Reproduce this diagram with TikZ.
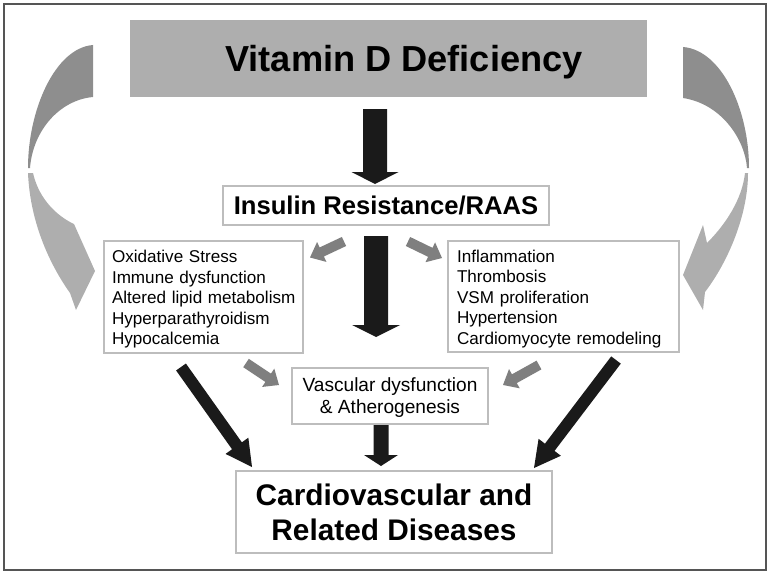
\documentclass[tikz,border=0pt]{standalone}
\usepackage{fontspec}
\setmainfont{Liberation Sans}
\usetikzlibrary{calc}
\definecolor{framec}{HTML}{555555}
\definecolor{topc}{HTML}{AEAEAE}
\definecolor{curvedark}{HTML}{8E8E8E}
\definecolor{curvelight}{HTML}{AEAEAE}
\definecolor{boxc}{HTML}{BDBDBD}
\definecolor{blk}{HTML}{1A1A1A}
\definecolor{gry}{HTML}{7F7F7F}
\newcommand\blkarrow[6]{%
  \coordinate (hb) at ($(#2)!#5!(#1)$);
  \fill[#6] ($(#1)!#3!90:(#2)$) -- ($(hb)!#3!-90:(#1)$) -- ($(hb)!#4!-90:(#1)$) -- (#2)
    -- ($(hb)!#4!90:(#1)$) -- ($(hb)!#3!90:(#1)$) -- ($(#1)!#3!-90:(#2)$) -- cycle;}
\newcommand\firststrut{\rule{0pt}{17pt}}
\begin{document}
\begin{tikzpicture}[x=1pt,y=-1pt,
  box/.style={draw=boxc, line width=2pt, fill=white, inner sep=0pt},
  listtext/.style={font=\fontsize{17.1}{20.5}\selectfont, align=left}]
\useasboundingbox (0,0) rectangle (771,575);
\draw[framec, line width=1.8pt] (4,4) rectangle (766,570);

% curved side arrows (left)
\fill[curvedark] (93,45) -- (93,97) .. controls (60,100) and (33,130) .. (30,168)
  -- (28,168) .. controls (28,110) and (55,48) .. (93,45) -- cycle;
\fill[curvelight] (33,173) .. controls (38,195) and (52,212) .. (70,222) -- (74,224) -- (95,271)
  -- (76,310) -- (70,293) .. controls (48,262) and (30,220) .. (28,173) -- cycle;
% curved side arrows (right)
\fill[curvedark] (683,47) .. controls (722,50) and (749,110) .. (749,168)
  -- (747,168) .. controls (745,140) and (722,104) .. (683,98) -- cycle;
\fill[curvelight] (748,173) .. controls (748,215) and (728,262) .. (705,292) -- (703,310) -- (683,275)
  -- (703,225) -- (707,243) .. controls (725,225) and (742,200) .. (745,173) -- cycle;

% boxes
\node[fill=topc, inner sep=0pt, minimum width=517pt, minimum height=77pt, text depth=0pt,
  font=\fontsize{36.2}{40}\selectfont\bfseries] (vit) at (388.5,58.5) {\hspace*{31pt}Vitamin D Deficiency};
\node[box, minimum width=326pt, minimum height=39pt, text depth=0pt,
  font=\fontsize{25.6}{28}\selectfont\bfseries] (ins) at (386,205.5) {Insulin Resistance/RAAS};
\node[box, minimum width=199pt, minimum height=112pt, listtext, text width=183pt] (lst) at (203.5,297)
  {\mbox{\firststrut Oxidative Stress}\\\mbox{Immune dysfunction}\\\mbox{Altered lipid metabolism}\\\mbox{Hyperparathyroidism}\\\mbox{Hypocalcemia}};
\node[box, minimum width=231pt, minimum height=111pt, listtext, text width=213pt] (rst) at (563.5,296.5)
  {\mbox{\firststrut Inflammation}\\\mbox{Thrombosis}\\\mbox{VSM proliferation}\\\mbox{Hypertension}\\\mbox{Cardiomyocyte remodeling}};
\node[box, minimum width=196pt, minimum height=56pt, align=center,
  font=\fontsize{19.1}{22}\selectfont] (vas) at (390,396) {\rule{0pt}{17pt}Vascular dysfunction\\\& Atherogenesis};
\node[box, minimum width=316pt, minimum height=82pt, align=center,
  font=\fontsize{29.8}{35}\selectfont\bfseries] (cvd) at (394,512) {\raisebox{-2pt}{Cardiovascular and}\\\raisebox{-2pt}{Related Diseases}};

% arrow end points
\coordinate (a1s) at ($(vit.south)+(-13.5,12)$);
\coordinate (a1e) at ($(ins.north)+(-11,-1)$);
\coordinate (a2s) at ($(ins.south)+(-10,10)$);
\coordinate (a2e) at ($(vas.north)+(-14,-30)$);
\coordinate (a3s) at ($(vas.south)+(-9,0)$);
\coordinate (a3e) at ($(cvd.north)+(-13,-4)$);
\coordinate (a4s) at ($(lst.south)+(-22.5,13)$);
\coordinate (a4e) at ($(cvd.north west)+(17,-3)$);
\coordinate (a5s) at ($(rst.south)+(52.5,7)$);
\coordinate (a5e) at ($(cvd.north east)+(-19,-2)$);
\coordinate (gas) at ($(ins.south)+(-42,15.5)$);
\coordinate (gae) at ($(lst.north east)+(6,17.5)$);
\coordinate (gbs) at ($(ins.south)+(22,15.5)$);
\coordinate (gbe) at ($(rst.north west)+(-5,18)$);
\coordinate (gcs) at ($(lst.south)+(42.5,9)$);
\coordinate (gce) at ($(vas.west)+(-12,-11)$);
\coordinate (gds) at ($(rst.south)+(-24.5,12)$);
\coordinate (gde) at ($(vas.east)+(14,-11)$);

% black arrows
\blkarrow{a1s}{a1e}{12pt}{23.5pt}{12pt}{blk}
\blkarrow{a2s}{a2e}{12pt}{24pt}{12pt}{blk}
\blkarrow{a3s}{a3e}{7.5pt}{17pt}{11pt}{blk}
\blkarrow{a4s}{a4e}{6pt}{14pt}{26pt}{blk}
\blkarrow{a5s}{a5e}{6pt}{14pt}{26pt}{blk}
% gray arrows
\blkarrow{gas}{gae}{5pt}{11pt}{13pt}{gry}
\blkarrow{gbs}{gbe}{5pt}{11pt}{13pt}{gry}
\blkarrow{gcs}{gce}{5pt}{11pt}{13pt}{gry}
\blkarrow{gds}{gde}{5pt}{11pt}{13pt}{gry}
\end{tikzpicture}
\end{document}
